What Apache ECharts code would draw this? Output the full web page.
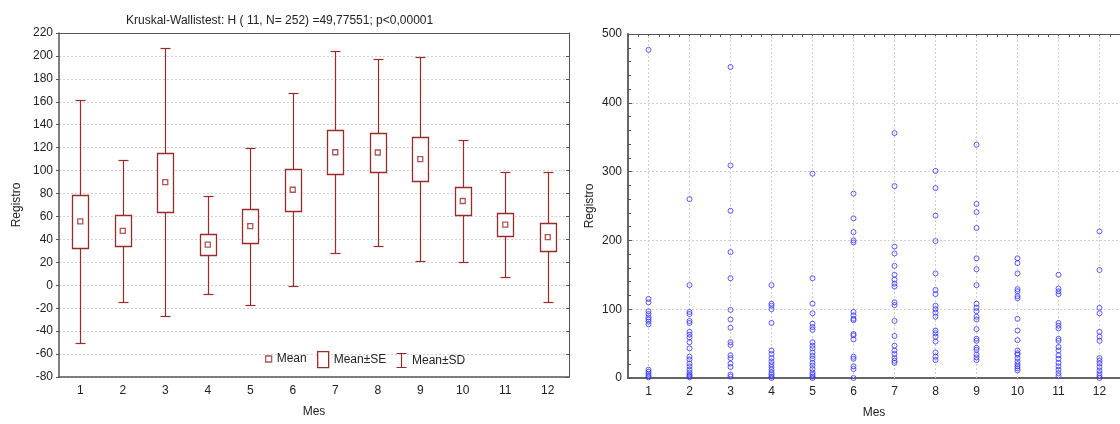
<!DOCTYPE html>
<html>
<head>
<meta charset="utf-8">
<script src="https://cdn.jsdelivr.net/npm/echarts@6/dist/echarts.min.js"></script>
<style>
html,body{margin:0;padding:0;background:#fff;}
#chart{width:1120px;height:424px;}
</style>
</head>
<body>
<div id="chart"></div>
<script>
// ---------- data ----------
const months = ['1','2','3','4','5','6','7','8','9','10','11','12'];
const titleText = 'Kruskal-Wallistest: H ( 11, N= 252) =49,77551; p<0,00001';
const leftTicks = {min: -80, max: 220, step: 20};
const rightTicks = {min: 0, max: 500, step: 100};

// Left chart: mean, standard error, standard deviation per month
const meanVals = [55.7, 47.5, 90, 35.5, 51.5, 83.3, 116, 115.8, 110, 73.5, 52.8, 42];
const seVals   = [23, 13.5, 25.7, 9.3, 14.8, 18.4, 19, 17.4, 19.5, 11.8, 10, 12.2];
const sdVals   = [106, 62, 117, 42.7, 68.5, 84.3, 88, 81.7, 89, 53.5, 45.8, 57];

// Right chart: raw "Registro" observations per month
const reg1  = [477, 115, 110, 97, 93, 88, 85, 82, 78, 12, 9, 6, 3, 1];
const reg2  = [260, 135, 96, 93, 83, 80, 67, 63, 59, 52, 43, 31, 27, 21, 17, 12, 8, 5, 3, 1];
const reg3  = [452, 309, 243, 183, 145, 99, 85, 73, 52, 48, 33, 29, 21, 16, 5, 2];
const reg4  = [135, 108, 105, 100, 80, 40, 35, 29, 24, 20, 16, 12, 8, 5, 2, 0];
const reg5  = [297, 145, 108, 94, 79, 74, 70, 52, 47, 43, 37, 32, 28, 22, 18, 13, 8, 5, 2, 0];
const reg6  = [268, 232, 212, 200, 197, 96, 91, 86, 84, 64, 62, 56, 31, 28, 17, 13, 0];
const reg7  = [356, 279, 191, 181, 163, 150, 143, 137, 133, 110, 106, 83, 61, 47, 40, 35, 29, 25, 22];
const reg8  = [301, 276, 236, 199, 152, 128, 122, 105, 100, 95, 89, 69, 65, 60, 53, 37, 31, 26];
const reg9  = [339, 253, 241, 218, 174, 158, 135, 108, 102, 97, 89, 85, 71, 57, 54, 44, 41, 34, 30, 26];
const reg10 = [174, 167, 152, 129, 126, 119, 116, 86, 69, 55, 40, 36, 34, 29, 24, 20, 17, 14, 11];
const reg11 = [150, 130, 126, 122, 80, 76, 72, 57, 54, 45, 40, 33, 28, 22, 17, 12, 7, 3];
const reg12 = [213, 157, 102, 94, 67, 60, 54, 29, 25, 21, 16, 11, 7, 3, 0];
const registro = [reg1, reg2, reg3, reg4, reg5, reg6, reg7, reg8, reg9, reg10, reg11, reg12];

// ---------- styling ----------
const RED = '#9a2b2b';
const BLUE = '#3535ff';
const FONT = 'Liberation Sans, Arial, sans-serif';
const TXT = '#222';
const GRIDC = '#d0d0d0';
const AXC = '#555';

const statData = months.map((m, i) => [i, meanVals[i], seVals[i], sdVals[i]]);
const scatterData = [];
registro.forEach((arr, i) => arr.forEach(v => scatterData.push([i, v])));

function sdItem(params, api) {
  const i = api.value(0), m = api.value(1), sd = api.value(3);
  const x = Math.round(api.coord([i, m])[0]) + 0.5;
  const yt = Math.round(api.coord([i, m + sd])[1]) + 0.5;
  const yb = Math.round(api.coord([i, m - sd])[1]) + 0.5;
  const c = 5;
  const st = {stroke: RED, lineWidth: 1.2, fill: null};
  return {type: 'group', children: [
    {type: 'line', shape: {x1: x, y1: yt, x2: x, y2: yb}, style: st},
    {type: 'line', shape: {x1: x - c, y1: yt, x2: x + c, y2: yt}, style: st},
    {type: 'line', shape: {x1: x - c, y1: yb, x2: x + c, y2: yb}, style: st}
  ]};
}
function seItem(params, api) {
  const i = api.value(0), m = api.value(1), se = api.value(2);
  const x = Math.round(api.coord([i, m])[0]) + 0.5;
  const yt = Math.round(api.coord([i, m + se])[1]) + 0.5;
  const yb = Math.round(api.coord([i, m - se])[1]) + 0.5;
  const w = 8;
  return {type: 'rect', shape: {x: x - w, y: yt, width: 2 * w, height: yb - yt},
    style: {fill: '#fff', stroke: RED, lineWidth: 1.3}};
}

const axisLabel = {color: TXT, fontFamily: FONT, fontSize: 12};
const nameStyle = {color: TXT, fontFamily: FONT, fontSize: 12};
const legText = {color: TXT, fontFamily: FONT, fontSize: 12, lineHeight: 16};
const gridLine = {show: true, lineStyle: {color: GRIDC, type: [2, 2], width: 1}};

const option = {
  animation: false,
  backgroundColor: '#fff',
  title: [{
    text: titleText, left: 121, top: 10,
    textStyle: {color: TXT, fontFamily: FONT, fontSize: 12, fontWeight: 'normal'}
  }],
  legend: [
    {left: 265, top: 351, itemWidth: 6, itemHeight: 6, textStyle: legText, selectedMode: false, padding: 0,
     data: [{name: 'Mean', icon: 'rect', itemStyle: {color: '#fff', borderColor: RED, borderWidth: 1.3}}]},
    {left: 317, top: 351, itemWidth: 11, itemHeight: 16, textStyle: legText, selectedMode: false, padding: 0,
     data: [{name: 'Mean±SE', icon: 'rect', itemStyle: {color: '#fff', borderColor: RED, borderWidth: 1.3}}]},
    {left: 394, top: 351, itemWidth: 11, itemHeight: 14, textStyle: legText, selectedMode: false, padding: 0,
     data: [{name: 'Mean±SD', icon: 'path://M0,0L10,0M5,0L5,14M0,14L10,14',
             itemStyle: {color: 'none', borderColor: RED, borderWidth: 1.2}}]}
  ],
  grid: [
    {left: 59, right: 551, top: 33, bottom: 47},
    {left: 628, right: -6, top: 34, bottom: 46}
  ],
  xAxis: [
    {gridIndex: 0, type: 'category', data: months, position: 'bottom',
     name: 'Mes', nameLocation: 'middle', nameGap: 29, nameTextStyle: nameStyle,
     axisLine: {onZero: false, lineStyle: {color: AXC, width: 1.5}},
     axisTick: {alignWithLabel: true, length: 4, lineStyle: {color: AXC}},
     axisLabel: Object.assign({margin: 8}, axisLabel), splitLine: {show: false}},
    {gridIndex: 0, type: 'category', data: months, position: 'top',
     axisLine: {onZero: false, lineStyle: {color: AXC, width: 1}},
     axisTick: {alignWithLabel: true, inside: true, length: 4, lineStyle: {color: AXC}},
     axisLabel: {show: false}, splitLine: {show: false}},
    {gridIndex: 1, type: 'category', data: months, position: 'bottom',
     name: 'Mes', nameLocation: 'middle', nameGap: 29, nameTextStyle: nameStyle,
     axisLine: {onZero: false, lineStyle: {color: '#666', width: 2}},
     axisTick: {alignWithLabel: true, inside: true, length: 3, lineStyle: {color: AXC}},
     axisLabel: Object.assign({margin: 8}, axisLabel), splitLine: {show: false}},
    {gridIndex: 1, type: 'value', min: 0.5, max: 12.5, interval: 0.25, position: 'top',
     axisLine: {onZero: false, lineStyle: {color: AXC, width: 1}},
     axisTick: {inside: true, length: 3, lineStyle: {color: AXC}},
     axisLabel: {show: false}, splitLine: {show: false}}
  ],
  yAxis: [
    {gridIndex: 0, type: 'value', min: leftTicks.min, max: leftTicks.max, interval: leftTicks.step,
     name: 'Registro', nameLocation: 'middle', nameGap: 36, nameTextStyle: nameStyle,
     axisLine: {show: true, onZero: false, lineStyle: {color: AXC, width: 1.5}},
     axisTick: {show: true, length: 3, lineStyle: {color: AXC}},
     axisLabel: Object.assign({margin: 6}, axisLabel),
     splitLine: gridLine},
    {gridIndex: 0, type: 'value', min: leftTicks.min, max: leftTicks.max, interval: leftTicks.step,
     position: 'right',
     axisLine: {show: true, onZero: false, lineStyle: {color: AXC, width: 1}},
     axisTick: {show: true, inside: true, length: 3, lineStyle: {color: AXC}},
     axisLabel: {show: false}, splitLine: {show: false}},
    {gridIndex: 1, type: 'value', min: rightTicks.min, max: rightTicks.max, interval: rightTicks.step,
     name: 'Registro', nameLocation: 'middle', nameGap: 32, nameTextStyle: nameStyle,
     axisLine: {show: true, onZero: false, lineStyle: {color: '#666', width: 2}},
     axisTick: {show: true, inside: true, length: 4, lineStyle: {color: AXC}},
     minorTick: {show: true, splitNumber: 5, length: 3, lineStyle: {color: AXC}},
     axisLabel: Object.assign({margin: 6}, axisLabel),
     splitLine: gridLine}
  ],
  series: [
    {name: 'Mean±SD', type: 'custom', xAxisIndex: 0, yAxisIndex: 0, renderItem: sdItem,
     itemStyle: {color: RED}, data: statData, encode: {x: 0, y: 1}, z: 2},
    {name: 'Mean±SE', type: 'custom', xAxisIndex: 0, yAxisIndex: 0, renderItem: seItem,
     itemStyle: {color: RED}, data: statData, encode: {x: 0, y: 1}, z: 3},
    {name: 'Mean', type: 'scatter', xAxisIndex: 0, yAxisIndex: 0, symbol: 'rect', symbolSize: 5,
     itemStyle: {color: '#fff', borderColor: RED, borderWidth: 1.3}, z: 4,
     data: meanVals.map((v, i) => [i, v])},
    {name: 'Registro', type: 'scatter', xAxisIndex: 2, yAxisIndex: 2, symbol: 'circle', symbolSize: 5,
     itemStyle: {color: 'rgba(0,0,0,0)', borderColor: BLUE, borderWidth: 1}, z: 4,
     data: scatterData,
     markLine: {silent: true, symbol: 'none', label: {show: false}, z: 1,
       lineStyle: {color: GRIDC, type: [2, 2], width: 1},
       data: months.map(m => ({xAxis: m}))}}
  ]
};

const chart = echarts.init(document.getElementById('chart'), null, {renderer: 'canvas'});
chart.setOption(option);
</script>
</body>
</html>
